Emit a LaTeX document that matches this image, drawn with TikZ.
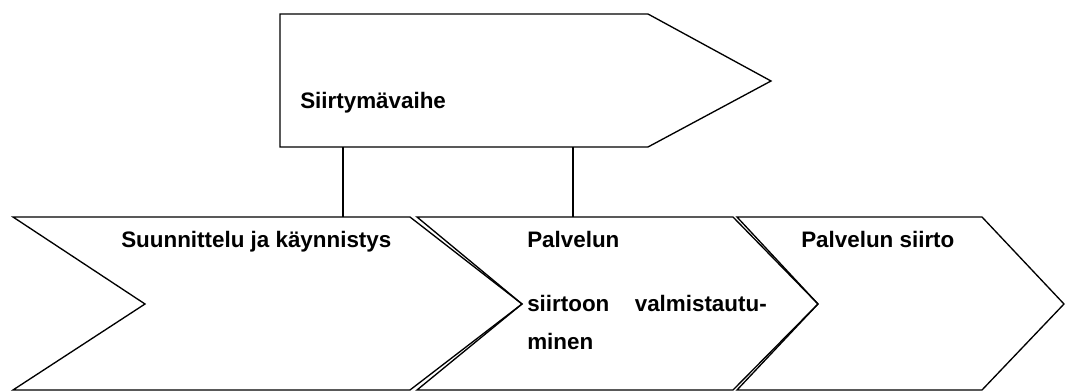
\documentclass[tikz,border=0pt]{standalone}
\usepackage{fontspec}
\setmainfont{Liberation Sans}
\begin{document}
\begin{tikzpicture}[x=0.75pt, y=-0.75pt,
  shapeline/.style={draw=black, line width=1pt, line join=miter},
  lbl/.style={anchor=base west, inner sep=0pt, font=\fontsize{16.8}{19}\selectfont\bfseries},
  lblr/.style={lbl, anchor=base east}]
\useasboundingbox (0,0) rectangle (1065,391);

% phase arrow on top
\draw[shapeline] (280,14) -- (648,14) -- (771,81) -- (648,147) -- (280,147) -- cycle;
\coordinate (topA) at (343,147);
\coordinate (topB) at (573,147);

% three chevrons along the bottom
\draw[shapeline] (13,217) -- (410,217) -- (522,304) -- (410,390) -- (13,390) -- (145,304) -- cycle;
\draw[shapeline] (417,217) -- (733,217) -- (818,304) -- (733,390) -- (417,390) -- (522,304) -- cycle;
\draw[shapeline] (737,217) -- (982,217) -- (1064,304) -- (982,390) -- (737,390) -- (818,304) -- cycle;
\coordinate (botA) at (343,217);
\coordinate (botB) at (573,217);

% links between the phase arrow and the chevrons
\draw[shapeline] (topA) -- (botA);
\draw[shapeline] (topB) -- (botB);

% labels
\node[lbl] (siirtyma) at (300,109) {Siirtymävaihe};
\node[lbl] (suunnittelu) at (121,248) {Suunnittelu ja käynnistys};
\node[lbl] (palvelun) at (527,248) {Palvelun};
\node[lbl] (siirtoon) at (527,312) {siirtoon};
\node[lblr] (valmis) at (767,312) {valmistautu-};
\node[lbl] (minen) at (527,350) {minen};
\node[lbl] (siirto) at (801,248) {Palvelun siirto};
\end{tikzpicture}
\end{document}
